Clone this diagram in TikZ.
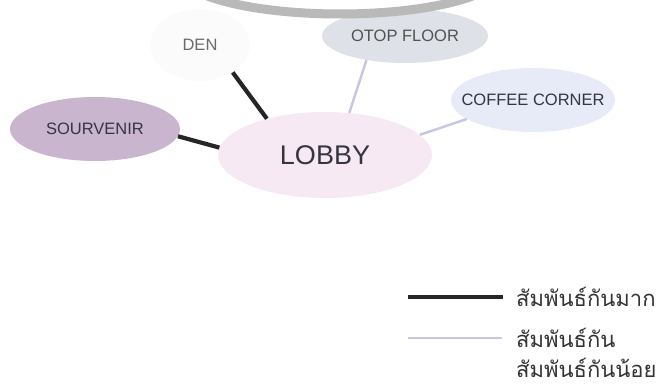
\documentclass[tikz,border=0pt]{standalone}
\usepackage{fontspec}
\setmainfont{Liberation Sans}
\newfontfamily\thaifont[Script=Thai]{Loma}
\usetikzlibrary{shapes.geometric}

\definecolor{souvfill}{HTML}{C9B6CE}
\definecolor{lobbyfill}{HTML}{F7E9F3}
\definecolor{denfill}{HTML}{FBFBFB}
\definecolor{otopfill}{HTML}{DFE1E9}
\definecolor{coffeefill}{HTML}{E7EAF7}
\definecolor{weakline}{HTML}{C6C6E2}
\definecolor{labeltext}{HTML}{353542}
\definecolor{arcgray}{HTML}{B9B9B9}

\begin{document}
\begin{tikzpicture}[x=1pt, y=-1pt,
    room/.style={ellipse, draw=none, inner sep=0pt},
    roomlabel/.style={font=\fontsize{16.5}{18}\selectfont, text=labeltext},
    keytext/.style={anchor=west, inner sep=1pt, font=\thaifont\fontsize{22}{24}\selectfont, text=black!80},
    strong/.style={line width=4.2pt, black!85},
    weak/.style={line width=2.4pt, weakline}]
    \useasboundingbox (0,0) rectangle (663,390);

    % Raeume
    \node[room, fill=souvfill, minimum width=170pt, minimum height=64pt,
          label={[roomlabel]center:SOURVENIR}] (sourvenir) at (95,129) {};
    \node[room, fill=lobbyfill, minimum width=214pt, minimum height=86pt,
          label={[font=\fontsize{27}{30}\selectfont, text=labeltext]center:LOBBY}] (lobby) at (325,155) {};
    \node[room, fill=denfill, minimum width=100pt, minimum height=72pt,
          label={[roomlabel, text=black!58]center:DEN}] (den) at (200,45) {};
    \node[room, fill=otopfill, minimum width=166pt, minimum height=54pt,
          label={[roomlabel, text=black!68]center:OTOP FLOOR}] (otop) at (405,36) {};
    \node[room, fill=coffeefill, minimum width=164pt, minimum height=64pt,
          label={[roomlabel]center:COFFEE CORNER}] (coffee) at (533,100) {};

    % Bogen oben
    \draw[arcgray, line width=9pt] (340,-27) ellipse [x radius=160, y radius=41];

    % Beziehungen
    \draw[strong] (sourvenir.-5) -- (lobby.176);
    \draw[strong] (den.-40) -- (lobby.148);
    \draw[weak] (otop.212) -- (lobby.60);
    \draw[weak] (coffee.196) -- (lobby.12);

    % Legende
    \coordinate (strongA) at (408,297);
    \coordinate (strongB) at (503,297);
    \coordinate (weakA) at (408,338);
    \coordinate (weakB) at (502,338);
    \draw[strong] (strongA) -- (strongB);
    \draw[weak] (weakA) -- (weakB);
    \node[keytext] (keystrong) at (515,297) {สัมพันธ์กันมาก};
    \node[keytext] (keyweak) at (515,338) {สัมพันธ์กัน};
    \node[keytext] (keyfaint) at (515,368) {สัมพันธ์กันน้อย};
\end{tikzpicture}
\end{document}
